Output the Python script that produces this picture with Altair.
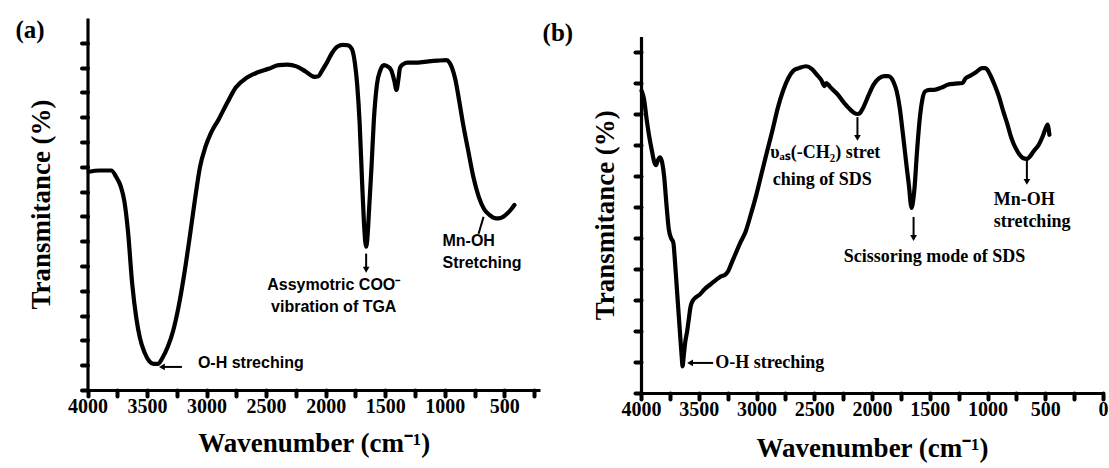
import altair as alt
import pandas as pd

# ---------------- Panel (a) data ----------------
a_wn = [3990, 3900, 3800, 3760, 3720, 3690, 3660, 3625, 3590, 3560, 3520, 3480, 3445, 3410,
        3370, 3325, 3280, 3235, 3190, 3145, 3100, 3055, 3010, 2965, 2900, 2830, 2755, 2660,
        2575, 2480, 2395, 2320, 2245, 2170, 2095, 2060, 2035, 1990, 1945, 1900, 1855, 1815,
        1780, 1755, 1735, 1715, 1695, 1680, 1668, 1660, 1650, 1635, 1615, 1595, 1570, 1540,
        1510, 1480, 1450, 1425, 1405, 1390, 1375, 1345, 1315, 1230, 1135, 1060, 985, 960,
        940, 910, 880, 845, 805, 760, 715, 670, 625, 590, 550, 510, 475, 440, 415]
a_tr = [8.8, 8.85, 8.85, 8.6, 8.2, 7.6, 6.4, 4.3, 2.9, 2.1, 1.5, 1.15, 1.05, 1.05,
        1.3, 1.75, 2.4, 3.36, 4.6, 6.05, 7.6, 9.0, 9.8, 10.35, 10.9, 11.55, 12.2, 12.6,
        12.8, 12.95, 13.1, 13.12, 13.05, 12.85, 12.63, 12.65, 12.84, 13.2, 13.6, 13.85, 13.92, 13.9,
        13.75, 13.2, 12.3, 10.8, 8.5, 6.9, 6.0, 5.78, 6.1, 7.3, 9.0, 10.9, 12.3, 12.9,
        13.1, 13.05, 12.9, 12.5, 12.1, 12.5, 13.0, 13.15, 13.2, 13.2, 13.25, 13.28, 13.3, 13.2,
        13.0, 12.5, 11.7, 10.7, 9.7, 8.6, 7.8, 7.3, 7.06, 6.95, 6.92, 6.98, 7.12, 7.3, 7.46]

# ---------------- Panel (b) data ----------------
b_wn = [3995, 3975, 3950, 3930, 3905, 3885, 3870, 3855, 3835, 3815, 3800, 3780, 3760, 3740,
        3720, 3705, 3690, 3675, 3660, 3648, 3640, 3630, 3616, 3600, 3585, 3570, 3554, 3520,
        3493, 3450, 3400, 3350, 3308, 3270, 3247, 3215, 3185, 3140, 3093, 3050, 3001, 2955,
        2908, 2860, 2816, 2770, 2724, 2680, 2632, 2570, 2520, 2478, 2440, 2410, 2395, 2380,
        2355, 2294, 2250, 2201, 2160, 2125, 2100, 2078, 2030, 1986, 1940, 1894, 1860, 1832,
        1810, 1786, 1760, 1740, 1725, 1700, 1678, 1665, 1657, 1648, 1632, 1610, 1586, 1565,
        1540, 1500, 1463, 1400, 1340, 1280, 1217, 1190, 1156, 1100, 1048, 1020, 1002, 975,
        940, 900, 864, 830, 802, 775, 756, 725, 694, 660, 633, 600, 556, 520, 495, 479, 470, 464]
b_tr = [9.75, 9.5, 8.8, 8.3, 7.8, 7.45, 7.35, 7.5, 7.6, 7.4, 7.0, 6.1, 5.3, 5.0,
        4.85, 4.2, 3.4, 2.6, 1.8, 1.2, 0.86, 1.2, 1.67, 2.0, 2.42, 2.8, 2.96, 3.1,
        3.17, 3.35, 3.5, 3.65, 3.76, 3.82, 3.92, 4.2, 4.46, 4.85, 5.22, 5.75, 6.4, 7.1,
        7.8, 8.5, 9.19, 9.75, 10.16, 10.4, 10.48, 10.54, 10.45, 10.27, 10.1, 9.9, 10.0, 9.95,
        9.84, 9.62, 9.4, 9.19, 9.05, 9.0, 9.05, 9.19, 9.6, 9.95, 10.15, 10.22, 10.22, 10.16,
        10.0, 9.73, 9.2, 8.6, 8.12, 7.3, 6.61, 6.1, 5.97, 6.1, 6.61, 7.8, 8.87, 9.45,
        9.73, 9.78, 9.78, 9.85, 9.95, 9.98, 10.0, 10.15, 10.22, 10.35, 10.48, 10.48, 10.43, 10.25,
        9.95, 9.55, 9.09, 8.7, 8.33, 8.05, 7.9, 7.7, 7.58, 7.55, 7.63, 7.8, 8.01, 8.3, 8.55, 8.66, 8.5, 8.33]

# ---------------- Axes ticks ----------------
a_xticks = [4000, 3750, 3500, 3250, 3000, 2750, 2500, 2250, 2000, 1750, 1500, 1250, 1000, 750, 500, 250]
b_xticks = [4000, 3750, 3500, 3250, 3000, 2750, 2500, 2250, 2000, 1750, 1500, 1250, 1000, 750, 500, 250, 0]
a_yticks = list(range(0, 15))
b_yticks = list(range(0, 12))

# ---------------- Annotations ----------------
a_text_left = pd.DataFrame({
    "wn": [3073, 1019, 1019],
    "v": [1.09, 6.0, 5.12],
    "t": ["O-H streching", "Mn-OH", "Stretching"],
})
a_text_center = pd.DataFrame({
    "wn": [1932, 1932],
    "v": [4.23, 3.35],
    "t": ["Assymotric COO\u207b", "vibration of TGA"],
})
a_panel_label = pd.DataFrame({"wn": [4482], "v": [14.5], "t": ["(a)"]})
a_rules = pd.DataFrame({
    "wn": [3207, 1660, 674],
    "wn2": [3375, 1660, 716],
    "v": [0.93, 5.5, 6.98],
    "v2": [0.93, 4.85, 6.3],
})
a_heads = pd.DataFrame({"wn": [3375, 1660], "v": [0.93, 4.85], "s": ["triangle-left", "triangle-down"]})

b_text_left = pd.DataFrame({
    "wn": [3358, 2881, 2860, 946, 946],
    "v": [0.97, 7.74, 6.87, 6.23, 5.52],
    "t": ["O-H streching", "\u03c5\u2090\u209b(-CH\u2082) stret", "ching of SDS", "Mn-OH", "stretching"],
})
b_text_center = pd.DataFrame({"wn": [1458], "v": [4.39], "t": ["Scissoring mode of SDS"]})
b_panel_label = pd.DataFrame({"wn": [4720], "v": [11.6], "t": ["(b)"]})
b_rules = pd.DataFrame({
    "wn": [3375, 2126, 1640, 659],
    "wn2": [3575, 2126, 1640, 659],
    "v": [0.97, 8.9, 5.68, 7.52],
    "v2": [0.97, 8.23, 5.0, 6.81],
})
b_heads = pd.DataFrame({"wn": [3575, 2126, 1640, 659], "v": [0.97, 8.23, 5.0, 6.81],
                        "s": ["triangle-left", "triangle-down", "triangle-down", "triangle-down"]})

SERIF = "Liberation Serif"
SANS = "Liberation Sans"
W, H = 1109, 468

AXIS_STYLE = dict(
    grid=False, domainColor="black", domainWidth=3.2, tickColor="black", tickWidth=4,
    tickSize=6, tickCap="round", labelColor="black", labelFont=SERIF, labelFontWeight="bold",
    labelFontSize=20, titleColor="black", titleFont=SERIF, titleFontWeight="bold",
    titleFontSize=27,
)


def panel(wn, tr, xdom, xrange, ydom, yrange, xticks, yticks, xlabels_expr,
          tl, tc, lab, rules, heads, ann_font, ann_size, title_pad_y, title_pad_x):
    xs = alt.Scale(domain=xdom, range=xrange, nice=False, zero=False)
    ys = alt.Scale(domain=ydom, range=yrange, nice=False, zero=False)
    df = pd.DataFrame({"wn": wn, "tr": tr})
    xaxis = alt.Axis(orient="bottom", offset=yrange[0] - H, values=xticks,
                     labelExpr=xlabels_expr, labelFlush=False, labelOverlap=False,
                     title="Wavenumber (cm\u207b\u00b9)", titlePadding=title_pad_x,
                     labelPadding=0, **AXIS_STYLE)
    yaxis = alt.Axis(orient="left", offset=-xrange[0], values=yticks, labels=False,
                     title="Transmitance (%)", titlePadding=title_pad_y, **AXIS_STYLE)
    line = alt.Chart(df).mark_line(color="black", strokeWidth=4.2, interpolate="monotone",
                                   strokeCap="round", strokeJoin="round").encode(
        x=alt.X("wn:Q", scale=xs, axis=xaxis),
        y=alt.Y("tr:Q", scale=ys, axis=yaxis),
    )
    ex = dict(scale=xs, axis=None)
    ey = dict(scale=ys, axis=None)
    t_left = alt.Chart(tl).mark_text(align="left", baseline="middle", font=ann_font,
                                     fontWeight="bold", fontSize=ann_size, color="black").encode(
        x=alt.X("wn:Q", **ex), y=alt.Y("v:Q", **ey), text="t:N")
    t_center = alt.Chart(tc).mark_text(align="center", baseline="middle", font=ann_font,
                                       fontWeight="bold", fontSize=ann_size, color="black").encode(
        x=alt.X("wn:Q", **ex), y=alt.Y("v:Q", **ey), text="t:N")
    t_lab = alt.Chart(lab).mark_text(align="center", baseline="middle", font=SERIF,
                                     fontWeight="bold", fontSize=25, color="black").encode(
        x=alt.X("wn:Q", **ex), y=alt.Y("v:Q", **ey), text="t:N")
    r = alt.Chart(rules).mark_rule(color="black", strokeWidth=2).encode(
        x=alt.X("wn:Q", **ex), x2="wn2:Q", y=alt.Y("v:Q", **ey), y2="v2:Q")
    hd = alt.Chart(heads).mark_point(filled=True, color="black", size=45, opacity=1).encode(
        x=alt.X("wn:Q", **ex), y=alt.Y("v:Q", **ey), shape=alt.Shape("s:N", scale=None))
    return [line, r, hd, t_left, t_center, t_lab]


label_expr = "datum.value % 500 == 0 ? format(datum.value, 'd') : ''"

pa = panel(a_wn, a_tr, [4000, 200], [87.5, 540], [0, 15], [390, 18], a_xticks, a_yticks,
           label_expr, a_text_left, a_text_center, a_panel_label, a_rules, a_heads,
           SANS, 16, 24, 14)
pb = panel(b_wn, b_tr, [4000, 0], [641, 1103], [0, 11.5], [393, 36.5], b_xticks, b_yticks,
           label_expr, b_text_left, b_text_center, b_panel_label, b_rules, b_heads,
           SERIF, 18, 14, 16)

chart = alt.LayerChart(layer=pa + pb).resolve_scale(
    x="independent", y="independent"
).resolve_axis(x="independent", y="independent").properties(
    width=W, height=H, autosize="none", padding=0, background="white"
).configure_view(stroke=None)

chart.save("out.html", embed_options={"renderer": "svg", "actions": False})
